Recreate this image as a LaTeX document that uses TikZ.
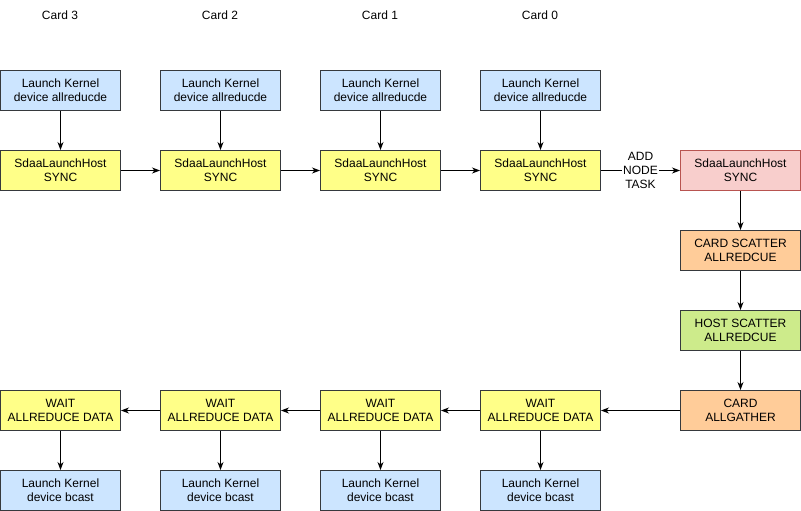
\documentclass[tikz,border=0pt]{standalone}
\usepackage{fontspec}
\setmainfont{Liberation Sans}
\usetikzlibrary{arrows.meta}
\definecolor{bfill}{HTML}{CCE5FF}
\definecolor{yfill}{HTML}{FFFF88}
\definecolor{rfill}{HTML}{F8CECC}
\definecolor{rline}{HTML}{B85450}
\definecolor{ofill}{HTML}{FFCC99}
\definecolor{gfill}{HTML}{CDEB8B}
\definecolor{dline}{HTML}{36393D}
\tikzset{
  box/.style={draw=dline, line width=1pt, minimum width=120pt, minimum height=40pt, inner sep=0pt, align=center, font=\fontsize{12}{14}\selectfont},
  bluebox/.style={box, fill=bfill},
  yelbox/.style={box, fill=yfill},
  redbox/.style={box, fill=rfill, draw=rline},
  orbox/.style={box, fill=ofill},
  grbox/.style={box, fill=gfill},
  lbl/.style={font=\fontsize{12}{14}\selectfont, inner sep=0pt},
  conn/.style={line width=1pt, -{Stealth[length=8pt,width=6pt,inset=2.5pt]}},
}
\begin{document}
\begin{tikzpicture}[x=1pt,y=-1pt]
\useasboundingbox (0,0) rectangle (801,511);
% column labels
\node[lbl] (c3) at (60,15) {Card 3};
\node[lbl] (c2) at (220,15) {Card 2};
\node[lbl] (c1) at (380,15) {Card 1};
\node[lbl] (c0) at (540,15) {Card 0};
% top launch kernels
\node[bluebox] (k3) at (60.5,90.5) {Launch Kernel\\device allreducde};
\node[bluebox] (k2) at (220.5,90.5) {Launch Kernel\\device allreducde};
\node[bluebox] (k1) at (380.5,90.5) {Launch Kernel\\device allreducde};
\node[bluebox] (k0) at (540.5,90.5) {Launch Kernel\\device allreducde};
% sync
\node[yelbox] (s3) at (60.5,170.5) {SdaaLaunchHost\\SYNC};
\node[yelbox] (s2) at (220.5,170.5) {SdaaLaunchHost\\SYNC};
\node[yelbox] (s1) at (380.5,170.5) {SdaaLaunchHost\\SYNC};
\node[yelbox] (s0) at (540.5,170.5) {SdaaLaunchHost\\SYNC};
\node[redbox] (sh) at (740.5,170.5) {SdaaLaunchHost\\SYNC};
% right column
\node[orbox] (cs) at (740.5,250.5) {CARD SCATTER\\ALLREDCUE};
\node[grbox] (hs) at (740.5,330.5) {HOST SCATTER\\ALLREDCUE};
\node[orbox] (ag) at (740.5,410.5) {CARD\\ALLGATHER};
% wait
\node[yelbox] (w3) at (60.5,410.5) {WAIT\\ALLREDUCE DATA};
\node[yelbox] (w2) at (220.5,410.5) {WAIT\\ALLREDUCE DATA};
\node[yelbox] (w1) at (380.5,410.5) {WAIT\\ALLREDUCE DATA};
\node[yelbox] (w0) at (540.5,410.5) {WAIT\\ALLREDUCE DATA};
% bcast
\node[bluebox] (b3) at (60.5,490.5) {Launch Kernel\\device bcast};
\node[bluebox] (b2) at (220.5,490.5) {Launch Kernel\\device bcast};
\node[bluebox] (b1) at (380.5,490.5) {Launch Kernel\\device bcast};
\node[bluebox] (b0) at (540.5,490.5) {Launch Kernel\\device bcast};
% connectors
\draw[conn] (k3) -- (s3);
\draw[conn] (k2) -- (s2);
\draw[conn] (k1) -- (s1);
\draw[conn] (k0) -- (s0);
\draw[conn] (s3) -- (s2);
\draw[conn] (s2) -- (s1);
\draw[conn] (s1) -- (s0);
\draw[conn] (s0) -- node[lbl, fill=white, align=center, inner sep=1pt] (t) {ADD\\NODE\\TASK} (sh);
\draw[conn] (sh) -- (cs);
\draw[conn] (cs) -- (hs);
\draw[conn] (hs) -- (ag);
\draw[conn] (ag) -- (w0);
\draw[conn] (w0) -- (w1);
\draw[conn] (w1) -- (w2);
\draw[conn] (w2) -- (w3);
\draw[conn] (w3) -- (b3);
\draw[conn] (w2) -- (b2);
\draw[conn] (w1) -- (b1);
\draw[conn] (w0) -- (b0);
\end{tikzpicture}
\end{document}
